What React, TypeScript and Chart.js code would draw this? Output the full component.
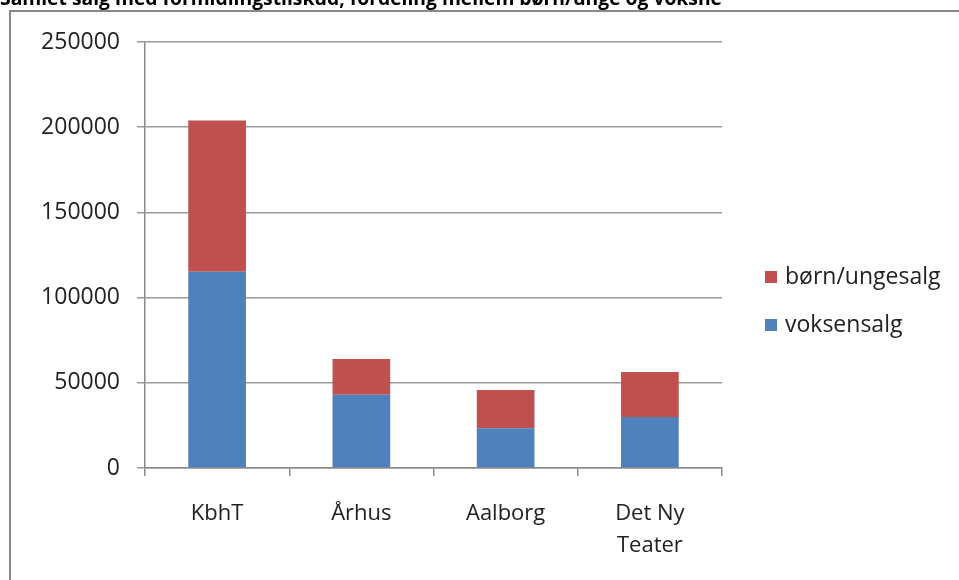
import React, { useEffect, useRef } from "react";
import { Chart, registerables } from "chart.js";

Chart.register(...registerables);

const titleText = "Samlet salg med formidlingstilskud, fordeling mellem børn/unge og voksne";
const categories: (string | string[])[] = ["KbhT", "Århus", "Aalborg", ["Det Ny", "Teater"]];
const voksensalg = [115200, 43000, 23300, 30000];
const boernUngesalg = [88700, 21000, 22500, 26300];
const yTicks = [0, 50000, 100000, 150000, 200000, 250000];

const W = 959;
const H = 593;
const SHIFT = 13;
const FONT = "'Open Sans', sans-serif";

const framePlugin = {
  id: "frame",
  beforeDraw(chart: any) {
    const ctx = chart.ctx;
    ctx.save();
    ctx.strokeStyle = "#8a8a8a";
    ctx.lineWidth = 2;
    ctx.strokeRect(10, 11 + SHIFT, 1200, 1200);
    ctx.restore();
  },
};

// Legend drawn on the canvas from the chart's own datasets (reversed order, like the original)
const sideLegendPlugin = {
  id: "sideLegend",
  afterDraw(chart: any) {
    const ctx = chart.ctx;
    const items = chart.data.datasets.map((d: any) => ({ label: d.label, color: d.backgroundColor })).reverse();
    const boxX = 765;
    const textX = 785;
    const firstY = 277 + SHIFT;
    const gap = 48;
    const box = 12;
    ctx.save();
    ctx.font = `23px ${FONT}`;
    ctx.textBaseline = "middle";
    ctx.textAlign = "left";
    items.forEach((it: any, i: number) => {
      const cy = firstY + i * gap;
      ctx.fillStyle = it.color;
      ctx.fillRect(boxX, cy - box / 2, box, box);
      ctx.fillStyle = "#222";
      ctx.fillText(it.label, textX, cy);
    });
    ctx.restore();
  },
};

export default function App() {
  const ref = useRef<HTMLCanvasElement>(null);
  useEffect(() => {
    const chart = new Chart(ref.current!, {
      type: "bar",
      data: {
        labels: categories as any,
        datasets: [
          {
            label: "voksensalg",
            data: voksensalg,
            backgroundColor: "#4f81bd",
            barPercentage: 0.4,
            categoryPercentage: 1,
          },
          {
            label: "børn/ungesalg",
            data: boernUngesalg,
            backgroundColor: "#c0504d",
            barPercentage: 0.4,
            categoryPercentage: 1,
          },
        ],
      },
      options: {
        responsive: false,
        animation: false,
        devicePixelRatio: 1,
        layout: { padding: { left: 0, top: 0, right: W - 722, bottom: 0 } },
        plugins: {
          title: {
            display: true,
            text: titleText,
            align: "start",
            color: "#000",
            font: { family: FONT, size: 20, weight: "bold", lineHeight: 1.2 },
            padding: { top: 0, bottom: 42 + SHIFT - 24 },
          },
          legend: { display: false },
          tooltip: { enabled: false },
        },
        scales: {
          x: {
            stacked: true,
            offset: true,
            grid: {
              display: true,
              drawOnChartArea: false,
              drawTicks: true,
              tickLength: 8,
              color: "#8a8a8a",
              lineWidth: 1.5,
            },
            border: { display: true, color: "#8a8a8a", width: 1.5 },
            ticks: {
              color: "#222",
              maxRotation: 0,
              autoSkip: false,
              padding: 22,
              font: { family: FONT, size: 22, lineHeight: 1.45 },
            },
            afterFit: (s: any) => {
              s.height = H - (468 + SHIFT);
            },
          },
          y: {
            stacked: true,
            min: 0,
            max: 250000,
            afterBuildTicks: (s: any) => {
              s.ticks = yTicks.map((v) => ({ value: v }));
            },
            grid: {
              color: "#9a9a9a",
              lineWidth: 1.5,
              tickLength: 8,
              drawTicks: true,
            },
            border: { display: true, color: "#8a8a8a", width: 1.5 },
            ticks: {
              color: "#222",
              padding: 17,
              font: { family: FONT, size: 23 },
              callback: (v: any) => String(v),
            },
            afterFit: (s: any) => {
              s.width = 145;
            },
          },
        },
      },
      plugins: [framePlugin, sideLegendPlugin],
    } as any);
    return () => chart.destroy();
  }, []);
  return (
    <div
      style={{
        position: "fixed",
        left: 0,
        top: 0,
        width: W,
        height: 580,
        overflow: "hidden",
        background: "#fff",
      }}
    >
      <canvas
        ref={ref}
        width={W}
        height={H}
        style={{ position: "absolute", left: 0, top: -SHIFT, width: W, height: H }}
      />
    </div>
  );
}
